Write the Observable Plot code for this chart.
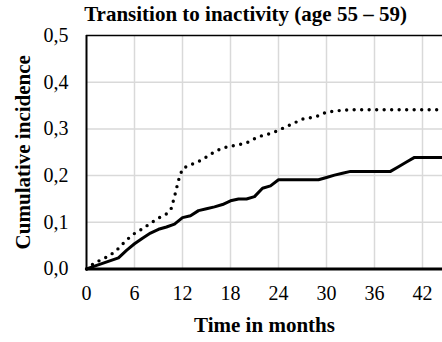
<!DOCTYPE html>
<html>
<head>
<meta charset="utf-8">
<script src="https://cdn.jsdelivr.net/npm/d3@7"></script>
<script src="https://cdn.jsdelivr.net/npm/@observablehq/plot@0.6"></script>
<style>
  html, body { margin: 0; padding: 0; background: #fff; }
  svg { display: block; }
</style>
</head>
<body>
<div id="chart"></div>
<script>
const title = "Transition to inactivity (age 55 – 59)";
const xTitle = "Time in months";
const yTitle = "Cumulative incidence";
const xTicks = [0, 6, 12, 18, 24, 30, 36, 42];
const yTicks = [0, 0.1, 0.2, 0.3, 0.4, 0.5];

// solid series (months, cumulative incidence)
const solidMonths = [0,1,2,3,4,5,6,7,8,9,10,11,12,13,14,15,16,17,18,19,20,21,22,23,24,25,26,27,28,29,30,31,32,33,34,35,36,37,38,39,40,41,42,43,44.5];
const solidValues = [0,0.006,0.012,0.018,0.024,0.040,0.054,0.066,0.077,0.085,0.090,0.096,0.110,0.114,0.125,0.129,0.133,0.138,0.146,0.150,0.150,0.155,0.173,0.178,0.191,0.191,0.191,0.191,0.191,0.191,0.196,0.201,0.205,0.209,0.209,0.209,0.209,0.209,0.209,0.219,0.229,0.239,0.239,0.239,0.239];

// dotted series
const dottedMonths = [0,1,2,3,4,5,6,7,8,9,10,10.6,11,11.5,12,13,14,15,16,17,18,19,20,21,22,23,24,25,26,27,28,29,30,31,32,33,34,35,36,37,38,39,40,41,42,43,44];
const dottedValues = [0,0.013,0.021,0.030,0.044,0.062,0.076,0.086,0.098,0.109,0.118,0.130,0.155,0.190,0.215,0.223,0.230,0.240,0.251,0.259,0.263,0.266,0.270,0.279,0.286,0.290,0.297,0.305,0.313,0.321,0.324,0.328,0.336,0.338,0.340,0.341,0.341,0.341,0.341,0.341,0.341,0.341,0.341,0.341,0.341,0.341,0.341];

const solid = solidMonths.map((m, i) => ({m, v: solidValues[i]}));
const dotted = dottedMonths.map((m, i) => ({m, v: dottedValues[i]}));
const fmt = d => d3.format(".1f")(d).replace(".", ",");

const font = "'Liberation Serif', 'Times New Roman', serif";
const chart = Plot.plot({
  width: 442,
  height: 342,
  marginLeft: 86,
  marginRight: 0,
  marginTop: 35,
  marginBottom: 73.5,
  style: {fontFamily: font, fontSize: "20px", color: "#000", background: "#fff"},
  x: {domain: [0, 44.5]},
  y: {domain: [0, 0.5]},
  marks: [
    Plot.gridX(xTicks.filter(d => d > 0), {stroke: "#d9d9d9", strokeOpacity: 1, strokeWidth: 1.5}),
    Plot.gridY(yTicks.filter(d => d > 0 && d < 0.5), {stroke: "#d9d9d9", strokeOpacity: 1, strokeWidth: 1.5}),
    Plot.axisX({ticks: xTicks, tickSize: 0, tickPadding: 17, label: null, fontSize: 20}),
    Plot.axisY({ticks: yTicks, tickSize: 0, tickPadding: 18, label: null, tickFormat: fmt, fontSize: 20}),
    Plot.ruleY([0.5], {stroke: "#000", strokeWidth: 1.5}),
    Plot.ruleX([0], {stroke: "#000", strokeWidth: 2}),
    Plot.line(dotted, {x: "m", y: "v", stroke: "#000", strokeWidth: 3.4, strokeLinecap: "round", strokeDasharray: "0,7.5"}),
    Plot.line(solid, {x: "m", y: "v", stroke: "#000", strokeWidth: 3, strokeLinejoin: "round"}),
    Plot.ruleY([0], {stroke: "#000", strokeWidth: 3}),
    Plot.text([title], {frameAnchor: "top", dx: -19, dy: -15, lineAnchor: "bottom", textAnchor: "middle", fontWeight: "bold", fontSize: 21, text: d => d}),
    Plot.text([xTitle], {frameAnchor: "bottom", dy: 63, lineAnchor: "bottom", textAnchor: "middle", fontWeight: "bold", fontSize: 21, text: d => d}),
    Plot.text([yTitle], {frameAnchor: "left", dx: -63, rotate: -90, textAnchor: "middle", lineAnchor: "middle", fontWeight: "bold", fontSize: 21, text: d => d})
  ]
});
document.getElementById("chart").appendChild(chart);
</script>
</body>
</html>
